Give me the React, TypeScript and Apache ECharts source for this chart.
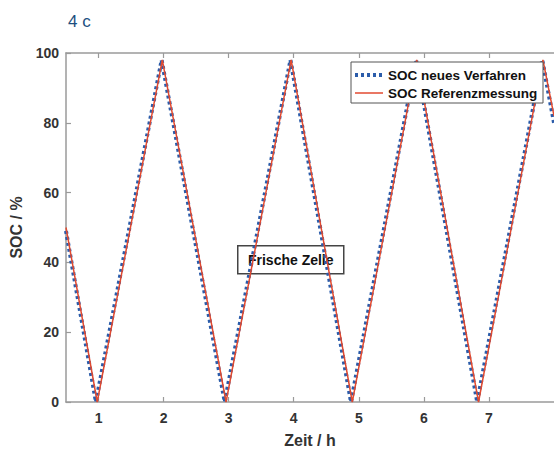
import React, { useEffect, useRef } from "react";
import * as echarts from "echarts";

const xTicks = [1, 2, 3, 4, 5, 6, 7];
const yTicks = [0, 20, 40, 60, 80, 100];

const timeNew = [0.5, 0.96, 1.97, 2.94, 3.95, 4.88, 5.88, 6.82, 7.82, 8.0];
const socNew = [49, 0, 98, 0, 98, 0, 98, 0, 98, 80];

const timeRef = [0.5, 0.98, 1.98, 2.96, 3.96, 4.9, 5.89, 6.84, 7.83, 8.0];
const socRef = [50, 0, 98, 0, 98, 0, 98, 0, 98, 82];

const nameNew = "SOC neues Verfahren";
const nameRef = "SOC Referenzmessung";
const titleText = "4 c";
const noteText = "Frische Zelle";
const xName = "Zeit / h";
const yName = "SOC / %";

const FONT = "'Liberation Sans', Arial, sans-serif";
const AXIS_COLOR = "#9a9a9a";
const LABEL_COLOR = "#333";
const BLUE = "#2b5caa";
const RED = "#e24a30";

export default function App() {
  const ref = useRef<HTMLDivElement>(null);
  useEffect(() => {
    if (!ref.current) return;
    const chart = echarts.init(ref.current, undefined, { renderer: "svg" });
    const pairs = (xs: number[], ys: number[]) => xs.map((x, i) => [x, ys[i]]);
    const baseX = {
      type: "value" as const,
      min: 0.5,
      max: 8,
      splitLine: { show: false },
      axisLine: { show: true, onZero: false, lineStyle: { color: AXIS_COLOR, width: 1.5 } },
      axisTick: { show: true, inside: true, length: 5, customValues: xTicks, lineStyle: { color: AXIS_COLOR, width: 1.2 } },
    };
    const legendText = (t: string, y: number) => ({
      type: "text",
      x: 388,
      y,
      z: 101,
      style: {
        text: t,
        fontSize: 13.5,
        fontWeight: "bold",
        fill: "#111",
        fontFamily: FONT,
        verticalAlign: "middle",
      },
    });
    chart.setOption({
      animation: false,
      backgroundColor: "#fff",
      textStyle: { fontFamily: FONT },
      grid: { left: 65, top: 53, bottom: 46, right: -7, containLabel: false },
      xAxis: [
        {
          ...baseX,
          position: "bottom",
          name: xName,
          nameLocation: "middle",
          nameGap: 30,
          nameTextStyle: { fontSize: 16, fontWeight: "bold", color: LABEL_COLOR, fontFamily: FONT },
          axisLabel: {
            customValues: xTicks,
            margin: 9,
            fontSize: 14,
            fontWeight: "bold",
            color: LABEL_COLOR,
            fontFamily: FONT,
          },
        },
        {
          ...baseX,
          position: "top",
          axisLabel: { show: false },
        },
      ],
      yAxis: [
        {
          type: "value",
          min: 0,
          max: 100,
          interval: 20,
          name: yName,
          nameLocation: "middle",
          nameGap: 42,
          nameRotate: 90,
          nameTextStyle: { fontSize: 16, fontWeight: "bold", color: LABEL_COLOR, fontFamily: FONT },
          splitLine: { show: false },
          axisLine: { show: true, lineStyle: { color: AXIS_COLOR, width: 1.5 } },
          axisTick: { show: true, inside: true, length: 5, lineStyle: { color: AXIS_COLOR, width: 1.2 } },
          axisLabel: {
            margin: 7,
            fontSize: 14,
            fontWeight: "bold",
            color: LABEL_COLOR,
            fontFamily: FONT,
            formatter: (v: number) => (yTicks.includes(v) ? String(v) : ""),
          },
        },
      ],
      legend: { show: false },
      series: [
        {
          name: nameNew,
          type: "line",
          data: pairs(timeNew, socNew),
          symbol: "none",
          lineStyle: { color: BLUE, width: 4, type: [3, 3], cap: "butt" },
          itemStyle: { color: BLUE },
          z: 2,
        },
        {
          name: nameRef,
          type: "line",
          data: pairs(timeRef, socRef),
          symbol: "none",
          lineStyle: { color: RED, width: 1.5 },
          itemStyle: { color: RED },
          z: 3,
        },
      ],
      graphic: [
        {
          type: "text",
          left: 68,
          top: 13,
          style: { text: titleText, fontSize: 17, fill: "#1c4f80", fontFamily: FONT },
        },
        {
          type: "rect",
          z: 100,
          shape: { x: 351, y: 62, width: 192, height: 41 },
          style: { fill: "#fff", stroke: "#555", lineWidth: 1 },
        },
        {
          type: "line",
          z: 101,
          shape: { x1: 355, y1: 75, x2: 383, y2: 75 },
          style: { stroke: BLUE, lineWidth: 4, lineDash: [3, 3] },
        },
        {
          type: "line",
          z: 101,
          shape: { x1: 355, y1: 93, x2: 383, y2: 93 },
          style: { stroke: RED, lineWidth: 1.5 },
        },
        legendText(nameNew, 75),
        legendText(nameRef, 93),
        {
          type: "group",
          left: 237,
          top: 245,
          z: 100,
          children: [
            {
              type: "rect",
              shape: { x: 0, y: 0, width: 106, height: 28 },
              style: { fill: "#fff", stroke: "#444", lineWidth: 1.5 },
            },
            {
              type: "text",
              x: 53,
              y: 14,
              style: {
                text: noteText,
                fontSize: 14,
                fontWeight: "bold",
                fill: "#111",
                fontFamily: FONT,
                align: "center",
                verticalAlign: "middle",
              },
            },
          ],
        },
      ],
    });
    return () => chart.dispose();
  }, []);
  return (
    <div
      ref={ref}
      style={{ position: "fixed", left: 0, top: 0, width: 554, height: 453, background: "#fff" }}
    />
  );
}
